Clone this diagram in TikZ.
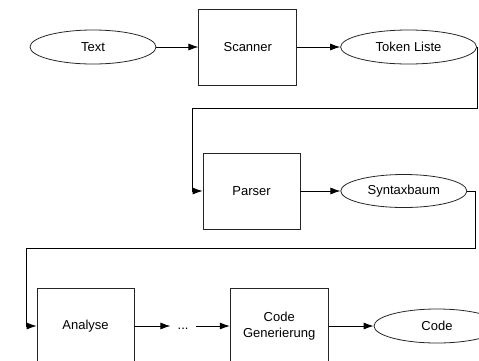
\documentclass[tikz,border=0pt]{standalone}
\usepackage{fontspec}
\setmainfont{Liberation Sans}
\usetikzlibrary{arrows.meta, positioning, shapes.geometric}
\tikzstyle{block} = [draw=black!85, line width=0.8pt, font=\fontsize{13}{16}\selectfont, inner sep=0pt]
\tikzstyle{stage} = [block, rectangle, minimum width=98pt, minimum height=76pt, align=center]
\tikzstyle{data} = [block, ellipse, minimum width=126pt, minimum height=34pt]
\tikzstyle{path} = [-{Latex[length=10pt, width=7pt]}, line width=0.8pt]
\tikzstyle{line} = [line width=0.8pt]

\begin{document}
\begin{tikzpicture}[x=1pt, y=1pt, node distance=42pt]
    \path [use as bounding box] (0,0) rectangle (479,-360);
    \clip (0,0) rectangle (479,-360);

    \node (text) [data] at (93,-47) {Text};
    \node (scanner) [stage, right=42pt of text] {Scanner};
    \node (token) [data, minimum width=136pt, right=43pt of scanner] {Token Liste};
    \node (parser) [stage, minimum width=97pt] at (251.5,-191) {Parser};
    \node (syntax) [data, minimum height=33pt, right=40pt of parser] {Syntaxbaum};
    \node (analyse) [stage, minimum width=97pt] at (85.5,-326) {Analyse};
    \node (dots) [font=\fontsize{13}{16}\selectfont, inner sep=0pt, text height=9.5pt, text depth=2.7pt, minimum width=25pt, right=36pt of analyse] {...};
    \node (codegen) [stage, right=34pt of dots] {Code\\Generierung};
    \node (code) [data, right=45pt of codegen] {Code};

    % Bends of the long connectors.
    \coordinate (bend a) at (477,-108);
    \coordinate (bend b) at (192,-108);
    \coordinate (bend c) at (475,-248);
    \coordinate (bend d) at (26,-248);

    % Arrows.
    \draw [path] (text) -- (scanner);
    \draw [path] (scanner) -- (token);
    \draw [line] (token.east) -| (bend a) -- (bend b);
    \draw [path] (bend b) |- (parser.west);
    \draw [path] (parser) -- (syntax);
    \draw [line] (syntax.east) -| (bend c) -- (bend d);
    \draw [path] (bend d) |- (analyse.west);
    \draw [path] (analyse) -- (dots);
    \draw [path] (dots) -- (codegen);
    \draw [path] (codegen) -- (code);
\end{tikzpicture}
\end{document}
